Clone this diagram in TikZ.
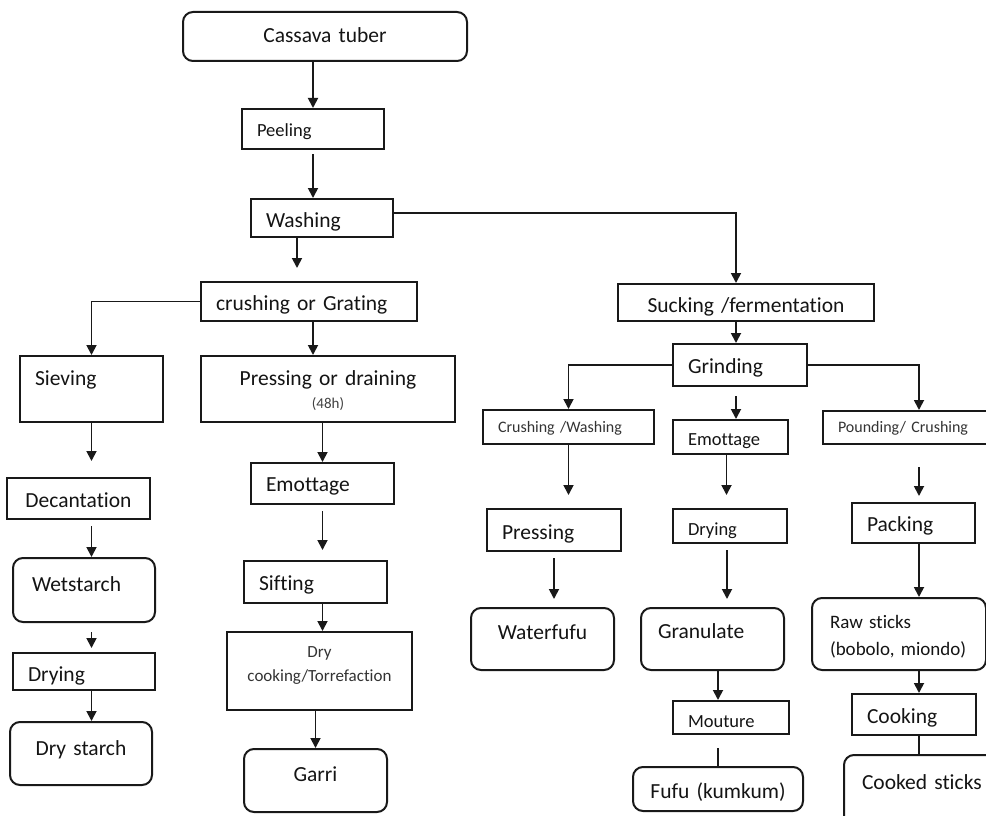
\documentclass[tikz,border=0pt]{standalone}
\usepackage{fontspec}
\setmainfont{Carlito}[Ligatures=NoCommon]
\usetikzlibrary{arrows.meta,calc}

\begin{document}
\begin{tikzpicture}[x=1pt, y=-1pt,
    fbig/.style={font=\fontsize{21.5}{26}\selectfont},
    fmid/.style={font=\fontsize{18.5}{22}\selectfont},
    fraw/.style={font=\fontsize{19}{27}\selectfont},
    ftorr/.style={font=\fontsize{17}{24}\selectfont, text=black!80},
    fsmall/.style={font=\fontsize{16}{19}\selectfont, text=black!80},
    stage/.style={draw=black!90, line width=2pt, anchor=north west, inner xsep=15pt,
                  inner ysep=0pt, align=left, text=black!92},
    product/.style={stage, rounded corners=10pt},
    flow/.style={draw=black!90, line width=1.8pt, -{Triangle[length=10pt,width=10pt]}},
    link/.style={draw=black!90, line width=1.8pt}]
   \clip (0,0) rectangle (986,816);
   % trunk
   \node[product, fbig, align=center, text width=254pt, text height=31pt, text depth=18pt] (tuber) at (182,11) {Cassava tuber};
   \node[stage, fmid, text width=112pt, text height=27pt, text depth=13pt] (peel) at (241,108) {Peeling};
   \node[stage, fbig, text width=112pt, text height=28pt, text depth=10pt] (wash) at (250,198) {Washing};
   \node[stage, fbig, text width=186pt, text height=28pt, text depth=11pt] (crush) at (200,281) {crushing or Grating};
   \node[stage, fbig, align=center, text width=226pt, text height=28pt, text depth=9pt] (suck) at (617,283) {Sucking /fermentation};
   % starch
   \node[stage, fbig, text width=113pt, text height=29pt, text depth=37pt] (sieve) at (19,355) {Sieving};
   \node[stage, fbig, align=center, text width=113pt, text height=29pt, text depth=12pt] (decant) at (6,477) {Decantation};
   \node[product, fbig, inner xsep=19pt, text width=104pt, text height=33pt, text depth=31pt] (wet) at (12,557) {Wetstarch};
   \node[stage, fbig, text width=112pt, text height=28pt, text depth=9pt] (drywet) at (12,652) {Drying};
   \node[product, fbig, align=center, text width=112pt, text height=33pt, text depth=30pt] (starch) at (9,721) {Dry starch};
   % garri
   \node[stage, fbig, align=center, text width=224pt, text height=29pt, text depth=37pt] (press) at (200,355)
        {Pressing or draining\\[-3pt]{\fontsize{15}{18}\selectfont\color{black!75}(48h)}};
   \node[stage, fbig, text width=113pt, text height=28pt, text depth=13pt] (emot) at (250,462) {Emottage};
   \node[stage, fbig, text width=113pt, text height=29pt, text depth=13pt] (sift) at (243,560) {Sifting};
   \node[stage, ftorr, align=center, text width=155pt, text height=25pt, text depth=53pt] (torr) at (226,631) {Dry\\cooking/Torrefaction};
   \node[product, fbig, align=center, text width=113pt, text height=32pt, text depth=31pt] (garri) at (243,748) {Garri};
   % fermented
   \node[stage, fbig, text width=104pt, text height=29pt, text depth=13pt] (grind) at (672,343) {Grinding};
   \node[stage, fsmall, text width=141pt, text height=22pt, text depth=12pt] (cwash) at (482,409) {Crushing /Washing};
   \node[stage, fmid, text width=85pt, text height=25pt, text depth=9pt] (emot2) at (672,419) {Emottage};
   \node[stage, fsmall, text width=162pt, text height=21pt, text depth=12pt] (pound) at (822,410) {Pounding/ Crushing};
   \node[stage, fbig, text width=104pt, text height=30pt, text depth=12pt] (press2) at (486,508) {Pressing};
   \node[product, fbig, align=center, text width=113pt, text height=31pt, text depth=31pt] (wfufu) at (470,607) {Waterfufu};
   \node[stage, fmid, text width=84pt, text height=26pt, text depth=8pt] (dry2) at (672,508) {Drying};
   \node[product, fbig, inner xsep=17pt, text width=109pt, text height=30pt, text depth=32pt] (gran) at (640,607) {Granulate};
   \node[stage, fmid, text width=86pt, text height=26pt, text depth=7pt] (mout) at (672,700) {Mouture};
   \node[product, fbig, align=center, text width=140pt, text height=31pt, text depth=13pt] (fufu) at (632,766) {Fufu (kumkum)};
   \node[stage, fbig, text width=93pt, text height=28pt, text depth=12pt] (pack) at (851,502) {Packing};
   \node[product, fraw, inner xsep=18pt, text width=138pt, text height=30pt, text depth=42pt] (raw) at (811,597) {Raw sticks\\(bobolo, miondo)};
   \node[stage, fbig, text width=94pt, text height=29pt, text depth=12pt] (cook) at (851,693) {Cooking};
   \node[product, fbig, inner xsep=18pt, text width=124pt, text height=34pt, text depth=42pt] (cooked) at (843,754) {Cooked sticks};

   \coordinate (wx) at (297,268);
   \coordinate (sx) at (736,213);
   % trunk arrows
   \draw[flow] (tuber.south -| peel.north) -- (peel.north);
   \draw[flow] ($(peel.south)+(0,4)$) -- (wash.north -| peel.south);
   \draw[flow] (wash.south -| wx) -- (wx);
   \draw[flow] (wash.east |- sx) -- (sx) -- (suck.north -| sx);
   \draw[flow] (crush.west) -| (sieve.north);
   \draw[flow] (crush.south -| peel.south) -- (press.north -| peel.south);
   % starch arrows
   \draw[flow] (sieve.south) -- ++(0,38);
   \draw[flow] ($(decant.south -| sieve.south)+(0,6)$) -- (wet.north -| sieve.south);
   \draw[flow] ($(wet.south -| sieve.south)+(0,9)$) -- ++(0,16);
   \draw[flow] (drywet.south -| sieve.south) -- (starch.north -| sieve.south);
   % garri arrows
   \draw[flow] (press.south -| emot.north) -- (emot.north);
   \draw[flow] ($(emot.south)+(0,6)$) -- ++(0,39);
   \draw[flow] (sift.south -| emot.south) -- (torr.north -| emot.south);
   \draw[flow] (torr.south -| garri.north) -- (garri.north);
   % fermented arrows
   \draw[flow] (suck.south -| sx) -- (grind.north -| sx);
   \draw[flow] (grind.west) -| (cwash.north);
   \draw[flow] (grind.east) -| (pound.north);
   \draw[flow] ($(grind.south -| sx)+(0,9)$) -- (emot2.north -| sx);
   \draw[flow] (cwash.south) -- ++(0,50);
   \draw[flow] ($(press2.south)+(0,6)$) -- ++(0,41);
   \draw[flow] ($(emot2.south)+(-4,0)$) -- ++(0,40);
   \draw[flow] ($(dry2.south)+(-3,6)$) -- ++(0,49);
   \draw[flow] (gran.south -| fufu.north) -- (mout.north -| fufu.north);
   \draw[link] ($(mout.south -| fufu.north)+(0,13)$) -- (fufu.north);
   \draw[flow] ($(pound.south)+(0,22)$) -- ++(0,29);
   \draw[flow] (pack.south -| pound.south) -- (raw.north -| pound.south);
   \draw[flow] (raw.south -| pound.south) -- (cook.north -| pound.south);
   \draw[link] (cook.south -| pound.south) -- (cooked.north -| pound.south);
\end{tikzpicture}
\end{document}
